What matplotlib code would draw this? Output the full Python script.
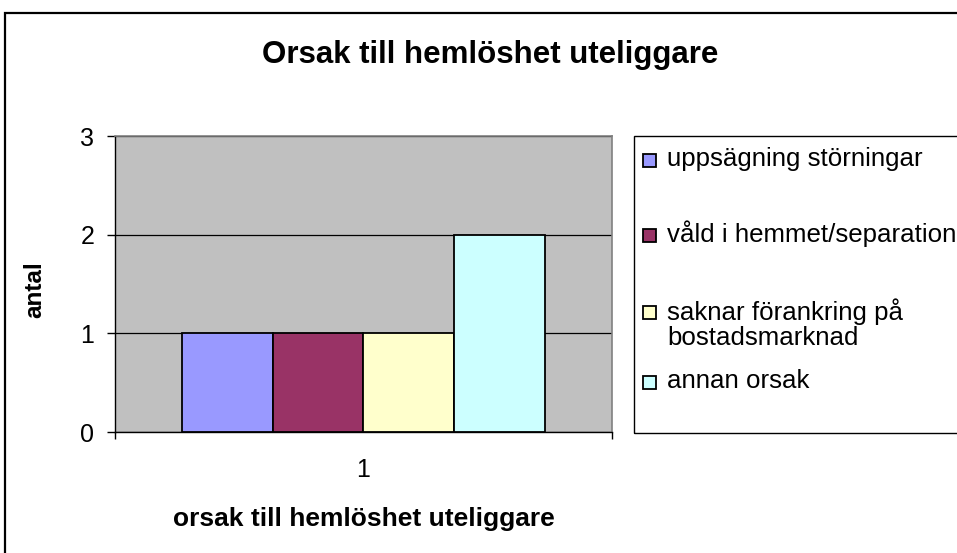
import matplotlib
matplotlib.use("Agg")
import matplotlib.pyplot as plt
from matplotlib.patches import Rectangle
import numpy as np

plt.rcParams['font.family'] = ['Liberation Sans', 'DejaVu Sans']

# ---- data ----
title = "Orsak till hemlöshet uteliggare"
x_label = "orsak till hemlöshet uteliggare"
y_label = "antal"
categories = ["1"]
series_names = ["uppsägning störningar", "våld i hemmet/separation",
                "saknar förankring på\nbostadsmarknad", "annan orsak"]
series_values = [1, 1, 1, 2]
series_colors = ["#9999FF", "#993366", "#FFFFCC", "#CCFFFF"]
y_ticks = [0, 1, 2, 3]

W, H = 957, 553
fig = plt.figure(figsize=(W / 100, H / 100), dpi=100)
fig.patch.set_facecolor("white")

def fx(px):
    return px / W

def fy(py):
    return 1 - py / H

# outer chart border (cut off at right and bottom)
fig.patches.append(Rectangle((fx(5), -0.1), 1.2, fy(13) + 0.1, transform=fig.transFigure,
                             fill=False, edgecolor="black", linewidth=1.6))

ax_l, ax_r, ax_t, ax_b = 115, 612, 136, 432
ax = fig.add_axes([fx(ax_l), fy(ax_b), fx(ax_r - ax_l), (ax_b - ax_t) / H])
ax.set_facecolor("#C0C0C0")

x = np.arange(1, len(categories) + 1)
n = len(series_values)
w = 0.183
for i, (name, val, col) in enumerate(zip(series_names, series_values, series_colors)):
    off = (i - (n - 1) / 2) * w
    ax.bar(x + off, [val], width=w, color=col, edgecolor="black", linewidth=1.3, zorder=3)

ax.set_xlim(0.5, len(categories) + 0.5)
ax.set_ylim(0, 3)
ax.set_yticks(y_ticks)
ax.set_yticklabels([str(t) for t in y_ticks], fontsize=18)
ax.tick_params(axis="y", direction="out", length=5.5, width=1, pad=9.5)
ax.set_xticks(x)
ax.set_xticklabels(categories, fontsize=18)
ax.tick_params(axis="x", which="major", length=0, pad=19)
ax.set_xticks(np.arange(0.5, len(categories) + 1), minor=True)
ax.tick_params(axis="x", which="minor", direction="out", length=5, width=1)

ax.grid(axis="y", color="black", linewidth=0.9, zorder=1)
ax.set_axisbelow(True)
for s in ["left", "bottom"]:
    ax.spines[s].set_color("black")
    ax.spines[s].set_linewidth(1)
for s in ["top", "right"]:
    ax.spines[s].set_color("#808080")
    ax.spines[s].set_linewidth(1.2)

ax.set_xlabel(x_label, fontsize=19, fontweight="bold")
ax.xaxis.set_label_coords(0.5, (ax_b - 526) / (ax_b - ax_t))
ax.xaxis.label.set_va("baseline")
ax.set_ylabel(y_label, fontsize=17.5, fontweight="bold")
ax.yaxis.set_label_coords(-0.161, 0.48)
ax.yaxis.label.set_va("center")

fig.text(fx(490), fy(63), title, fontsize=22.5, fontweight="bold", ha="center", va="baseline")

# legend (manual, Excel-like spacing)
fig.patches.append(Rectangle((fx(634), fy(433)), 1.0, (433 - 136) / H, transform=fig.transFigure,
                             fill=False, edgecolor="black", linewidth=1))
entry_first_line_y = [158, 233, 310, 380]
line_step = 27
msz = 13
for name, col, ey in zip(series_names, series_colors, entry_first_line_y):
    nlines = name.count("\n") + 1
    fig.patches.append(Rectangle((fx(643), fy(ey + 2 + msz / 2)), msz / W, msz / H,
                                 transform=fig.transFigure, facecolor=col,
                                 edgecolor="black", linewidth=1.3))
    cy = ey + (nlines - 1) * line_step / 2
    fig.text(fx(667), fy(cy + 1), name, fontsize=18.6, ha="left", va="center", linespacing=1.05)

fig.savefig("out.png", dpi=100)
